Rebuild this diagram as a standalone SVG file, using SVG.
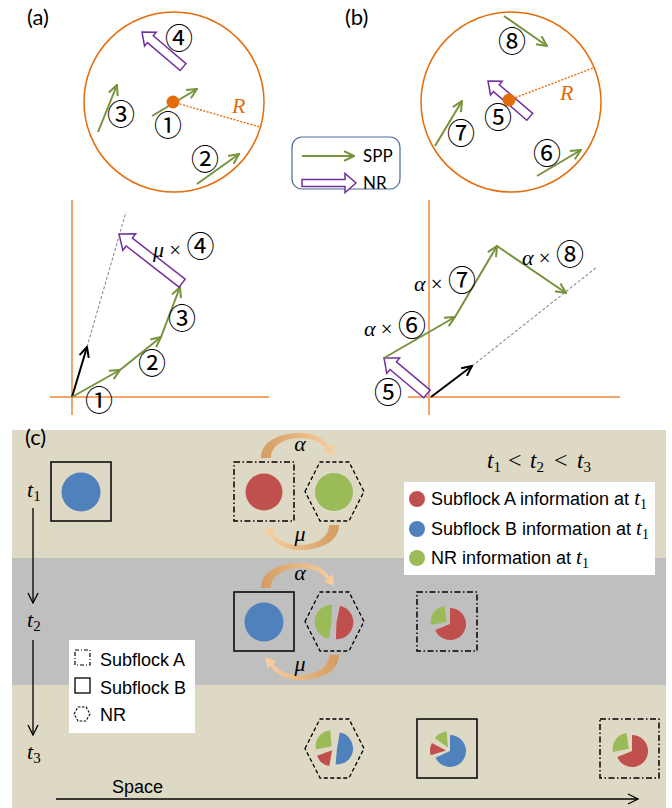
<svg xmlns="http://www.w3.org/2000/svg" width="672" height="808" viewBox="0 0 672 808">
<style>
.lbl{font-family:Lato,"Liberation Sans",sans-serif;font-size:22px;fill:#000}
.cn{font-family:"Noto Sans CJK JP","DejaVu Sans",sans-serif;font-size:28px;fill:#000;text-anchor:middle}
.cni{font-family:"Noto Sans CJK JP","DejaVu Sans",sans-serif;font-size:28px;fill:#000}
.mi{font-family:"Liberation Serif","DejaVu Serif",serif;font-style:italic;font-size:22px;fill:#000}
.mr{font-family:"Liberation Serif","DejaVu Serif",serif;font-size:21px;fill:#000}
.ring{fill:none;stroke:#E46C0A;stroke-width:1.5}
.rad{stroke:#E46C0A;stroke-width:1.4;stroke-dasharray:2 1.5;fill:none}
.dot{fill:#E46C0A}
.spp{stroke:#77933C;stroke-width:2;fill:none;marker-end:url(#ga)}
.blk{stroke:#000;stroke-width:2;fill:none;marker-end:url(#ka)}
.nr{fill:#fff;stroke:#7030A0;stroke-width:1.5;stroke-linejoin:miter}
.axis{stroke:#F4A66A;stroke-width:2;fill:none}
.dash{stroke:#8C8C8C;stroke-width:1.1;stroke-dasharray:3 2;fill:none}
.sf{font-family:"Liberation Sans",Arial,sans-serif;font-size:18px;fill:#000}
.boxA{fill:none;stroke:#000;stroke-width:1.5;stroke-dasharray:6 2.5 1.5 2.5}
.boxB{fill:none;stroke:#000;stroke-width:1.5}
.hex{fill:none;stroke:#000;stroke-width:1.3;stroke-dasharray:4 2.5}
.red{fill:#C0504D}.blue{fill:#4F81BD}.green{fill:#9BBB59}
.curv{fill:url(#og)}
.tl{stroke:#000;stroke-width:1.3;fill:none;marker-end:url(#ta)}
.sub{font-family:"Liberation Serif",serif;font-style:normal;font-size:15px}
</style>
<defs>
<marker id="ga" markerUnits="userSpaceOnUse" viewBox="0 0 12 12" refX="11" refY="6" markerWidth="12" markerHeight="12" orient="auto"><path d="M1,1.2 L11,6 L1,10.8" fill="none" stroke="#77933C" stroke-width="2"/></marker>
<marker id="ka" markerUnits="userSpaceOnUse" viewBox="0 0 12 12" refX="11" refY="6" markerWidth="12" markerHeight="12" orient="auto"><path d="M1,1.2 L11,6 L1,10.8" fill="none" stroke="#000" stroke-width="2"/></marker>
<marker id="ta" markerUnits="userSpaceOnUse" viewBox="0 0 12 12" refX="11" refY="6" markerWidth="12" markerHeight="12" orient="auto"><path d="M1,1 L11,6 L1,11" fill="none" stroke="#000" stroke-width="1.3"/></marker>
<linearGradient id="og" x1="0" y1="0" x2="1" y2="0"><stop offset="0" stop-color="#D39C62"/><stop offset="1" stop-color="#F8CFA0"/></linearGradient>
<path id="alphaArrow" d="M261,458 C261,441 280,433 300,433 C314,433 324,438 329.3,446.9 L332.6,444.2 L334.4,455.7 L323.4,451.8 L326.7,449.1 C321,441.5 311,438 300,438 C285,438 271,445 271,458 Z"/>
</defs>

<!-- Panel (a) top -->
<g id="panel-a-top">
<text class="lbl" x="27" y="25">(a)</text>
<circle class="ring" cx="174" cy="102" r="90"/>
<line class="rad" x1="173" y1="102" x2="260" y2="127"/>
<text x="232" y="113" style="font-family:'Liberation Serif',serif;font-style:italic;font-size:22px;fill:#E46C0A">R</text>
<polygon class="nr" transform="translate(142,32) rotate(40.5)" points="0,0 11,-9 11,-4.5 54,-4.5 54,4.5 11,4.5 11,9"/>
<line class="spp" x1="152" y1="116" x2="197" y2="89"/>
<circle class="dot" cx="173" cy="102" r="6.5"/>
<line class="spp" x1="98" y1="132" x2="117" y2="85"/>
<line class="spp" x1="197" y1="184" x2="239" y2="154"/>
<text class="cn" x="168" y="136">①</text>
<text class="cn" x="205" y="170">②</text>
<text class="cn" x="121" y="125">③</text>
<text class="cn" x="179" y="49">④</text>
</g>

<!-- Panel (b) top -->
<g id="panel-b-top">
<text class="lbl" x="345" y="25">(b)</text>
<circle class="ring" cx="511" cy="102" r="90"/>
<line class="rad" x1="509" y1="100" x2="593" y2="68"/>
<text x="560" y="100" style="font-family:'Liberation Serif',serif;font-style:italic;font-size:22px;fill:#E46C0A">R</text>
<polygon class="nr" transform="translate(488,81) rotate(40.6)" points="0,0 11,-9 11,-4.5 55,-4.5 55,4.5 11,4.5 11,9"/>
<circle class="dot" cx="509" cy="100" r="6.5"/>
<line class="spp" x1="504" y1="16" x2="547" y2="46"/>
<line class="spp" x1="435" y1="146" x2="462" y2="101"/>
<line class="spp" x1="537" y1="176" x2="581" y2="150"/>
<text class="cn" x="498" y="128">⑤</text>
<text class="cn" x="547" y="164">⑥</text>
<text class="cn" x="461" y="144">⑦</text>
<text class="cn" x="512" y="52">⑧</text>
</g>

<!-- Legend SPP / NR -->
<g id="legend-arrows">
<rect x="292" y="137" width="108" height="52" rx="10" ry="10" fill="#fff" stroke="#4A6A96" stroke-width="1.2"/>
<line class="spp" x1="302" y1="156" x2="354" y2="156"/>
<polygon class="nr" transform="translate(356,183) rotate(180)" points="0,0 11,-9.5 11,-3.5 54,-3.5 54,3.5 11,3.5 11,9.5"/>
<text x="363" y="162" style="font-family:Lato,'Liberation Sans',sans-serif;font-size:17px">SPP</text>
<text x="363" y="189" style="font-family:Lato,'Liberation Sans',sans-serif;font-size:17px">NR</text>
</g>

<!-- Panel (a) bottom -->
<g id="panel-a-bottom">
<line class="axis" x1="72" y1="200" x2="72" y2="415"/>
<line class="axis" x1="50" y1="397" x2="269" y2="397"/>
<line class="dash" x1="87" y1="347" x2="126" y2="212"/>
<line class="blk" x1="72" y1="397" x2="87" y2="347"/>
<line class="spp" x1="72" y1="397" x2="120" y2="370"/>
<line class="spp" x1="120" y1="370" x2="161" y2="337"/>
<line class="spp" x1="161" y1="337" x2="180" y2="287"/>
<polygon class="nr" transform="translate(119,234) rotate(37.9)" points="0,0 13,-10.5 13,-5 80,-5 80,5 13,5 13,10.5"/>
<text class="cn" x="99" y="411">①</text>
<text class="cn" x="152" y="374">②</text>
<text class="cn" x="182" y="329">③</text>
<text y="257"><tspan x="153" class="mi">μ</tspan><tspan class="mr"> × </tspan><tspan class="cni">④</tspan></text>
</g>

<!-- Panel (b) bottom -->
<g id="panel-b-bottom">
<line class="axis" x1="429" y1="200" x2="429" y2="415"/>
<line class="axis" x1="408" y1="397" x2="620" y2="397"/>
<line class="dash" x1="472" y1="366" x2="597" y2="267"/>
<line class="blk" x1="431" y1="397" x2="472" y2="366"/>
<polygon class="nr" transform="translate(384,358) rotate(39.9)" points="0,0 12,-10 12,-5 56,-5 56,5 12,5 12,10"/>
<line class="spp" x1="384" y1="358" x2="455" y2="317"/>
<line class="spp" x1="455" y1="317" x2="497" y2="246"/>
<line class="spp" x1="497" y1="246" x2="566" y2="293"/>
<text class="cn" x="388" y="403">⑤</text>
<text y="336"><tspan x="364" class="mi">α</tspan><tspan class="mr"> × </tspan><tspan class="cni">⑥</tspan></text>
<text y="291"><tspan x="414" class="mi">α</tspan><tspan class="mr"> × </tspan><tspan class="cni">⑦</tspan></text>
<text y="265"><tspan x="522" class="mi">α</tspan><tspan class="mr"> × </tspan><tspan class="cni">⑧</tspan></text>
</g>

<!-- Panel (c) -->
<g id="panel-c-bg">
<rect x="12" y="430" width="654" height="128" fill="#DDD9C4"/>
<rect x="12" y="558" width="654" height="127" fill="#BFBFBF"/>
<rect x="12" y="685" width="654" height="123" fill="#DDD9C4"/>
<text class="lbl" x="25" y="445">(c)</text>
</g>

<g id="time-axis">
<text x="27" y="497" class="mi">t<tspan class="sub" dy="4">1</tspan></text>
<text x="27" y="627" class="mi">t<tspan class="sub" dy="4">2</tspan></text>
<text x="27" y="759" class="mi">t<tspan class="sub" dy="4">3</tspan></text>
<line class="tl" x1="33" y1="508" x2="33" y2="603"/>
<line class="tl" x1="33" y1="640" x2="33" y2="735"/>
<text y="468" class="mi" style="font-size:23px"><tspan x="487">t</tspan><tspan class="sub" dy="4">1</tspan><tspan x="508" dy="-4" style="font-style:normal;font-size:24px">&lt;</tspan><tspan x="530">t</tspan><tspan class="sub" dy="4">2</tspan><tspan x="554" dy="-4" style="font-style:normal;font-size:24px">&lt;</tspan><tspan x="577">t</tspan><tspan class="sub" dy="4">3</tspan></text>
</g>

<g id="t1-subflockB">
<rect class="boxB" x="51" y="462" width="60" height="59"/>
<circle class="blue" cx="81" cy="492" r="19.5"/>
</g>
<g id="t1-subflockA">
<rect class="boxA" x="234" y="462" width="60" height="59"/>
<circle class="red" cx="264" cy="492" r="18.5"/>
</g>
<g id="t1-nr">
<polygon class="hex" points="305,491.5 320,462 349,462 364,491.5 349,521 320,521"/>
<circle class="green" cx="334" cy="492" r="19"/>
</g>

<g id="t2-subflockB">
<rect class="boxB" x="234" y="592" width="60" height="59"/>
<circle class="blue" cx="264" cy="622" r="19.5"/>
</g>
<g id="t2-nr">
<polygon class="hex" points="305,621.5 320,592 349,592 364,621.5 349,651 320,651"/>
<path class="green" d="M331.5,621.8 L329.1,638.6 A17,17 0 0 1 332.1,604.8 Z"/>
<path class="red" d="M336.5,622.3 L340,605.7 A17,17 0 0 1 335.9,639.3 Z"/>
</g>
<g id="t2-subflockA">
<rect class="boxA" x="417" y="592" width="60" height="59"/>
<path class="red" d="M450,624 L450,608 A16,16 0 1 1 435.2,630 Z"/>
<path class="green" d="M446.7,621.7 L431,625 A16,16 0 0 1 444.5,605.9 Z"/>
</g>

<g id="t3-nr">
<polygon class="hex" points="305,748.5 320,719 349,719 364,748.5 349,778 320,778"/>
<path class="blue" d="M337,748.4 L339.8,732.6 A16,16 0 0 1 335.6,764.3 Z"/>
<path class="red" d="M332.1,750.3 L329.3,766.1 A16,16 0 0 1 317.1,755.8 Z"/>
<path class="green" d="M331.6,746.2 L315.9,749.5 A16,16 0 0 1 330.2,730.3 Z"/>
</g>
<g id="t3-subflockB">
<rect class="boxB" x="417" y="719" width="60" height="59"/>
<path class="blue" d="M450,751 L450,735 A16,16 0 1 1 435.5,757.8 Z"/>
<path class="green" d="M448,747.5 L434.9,738.3 A16,16 0 0 1 446.6,731.6 Z"/>
<path class="red" d="M446,750.6 L430.7,755.3 A16,16 0 0 1 431.9,743.1 Z"/>
</g>
<g id="t3-subflockA">
<rect class="boxA" x="600" y="719" width="59" height="59"/>
<g transform="translate(182,127)">
<path class="red" d="M450,624 L450,608 A16,16 0 1 1 435.2,630 Z"/>
<path class="green" d="M446.7,621.7 L431,625 A16,16 0 0 1 444.5,605.9 Z"/>
</g>
</g>

<g id="exchange-arrows">
<use href="#alphaArrow" class="curv"/>
<use href="#alphaArrow" class="curv" transform="rotate(180 300 491.5)"/>
<use href="#alphaArrow" class="curv" transform="translate(0,130)"/>
<use href="#alphaArrow" class="curv" transform="translate(0,130) rotate(180 300 491.5)"/>
<text x="300" y="451" class="mi" text-anchor="middle">α</text>
<text x="300" y="541" class="mi" text-anchor="middle">μ</text>
<text x="300" y="580" class="mi" text-anchor="middle">α</text>
<text x="300" y="671" class="mi" text-anchor="middle">μ</text>
</g>

<g id="legend-info">
<rect x="404" y="482" width="251" height="93" fill="#fff"/>
<circle class="red" cx="417" cy="499" r="8"/>
<circle class="blue" cx="417" cy="529" r="8"/>
<circle class="green" cx="417" cy="558" r="8"/>
<text class="sf" x="431" y="505">Subflock A information at <tspan class="mi" style="font-size:21px">t</tspan><tspan style="font-family:'Liberation Serif',serif;font-size:14px" dy="4">1</tspan></text>
<text class="sf" x="431" y="535">Subflock B information at <tspan class="mi" style="font-size:21px">t</tspan><tspan style="font-family:'Liberation Serif',serif;font-size:14px" dy="4">1</tspan></text>
<text class="sf" x="431" y="564">NR information at <tspan class="mi" style="font-size:21px">t</tspan><tspan style="font-family:'Liberation Serif',serif;font-size:14px" dy="4">1</tspan></text>
</g>

<g id="legend-shapes">
<rect x="69" y="640" width="126" height="93" fill="#fff"/>
<rect x="75" y="650" width="15" height="15" fill="none" stroke="#000" stroke-width="1.2" stroke-dasharray="4 2 1 2"/>
<rect x="75" y="678" width="15" height="15" fill="none" stroke="#000" stroke-width="1.3"/>
<polygon points="74,714 78,707 86,707 90,714 86,721 78,721" fill="none" stroke="#000" stroke-width="1.1" stroke-dasharray="2.5 1.5"/>
<text class="sf" x="100" y="666">Subflock A</text>
<text class="sf" x="100" y="694">Subflock B</text>
<text class="sf" x="100" y="721">NR</text>
</g>

<g id="space-axis">
<line x1="56" y1="799" x2="638" y2="799" stroke="#000" stroke-width="1.3" marker-end="url(#ta)"/>
<text class="sf" x="112" y="793">Space</text>
</g>
</svg>
